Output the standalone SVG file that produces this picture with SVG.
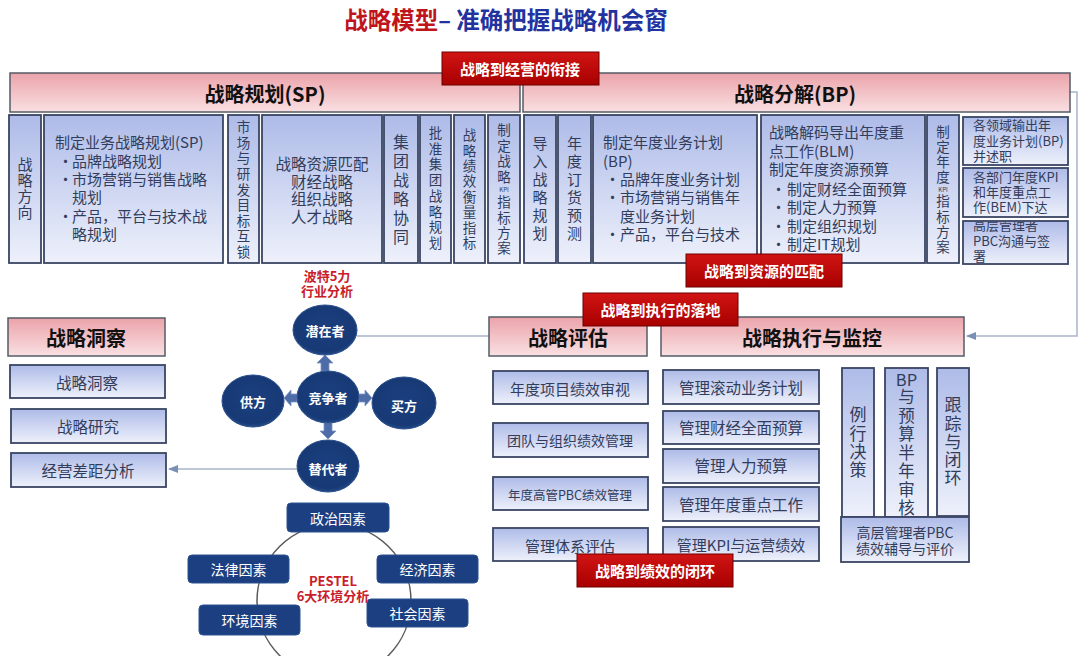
<svg xmlns="http://www.w3.org/2000/svg" width="1080" height="656" viewBox="0 0 1080 656">
<defs>
<linearGradient id="gBlue" x1="0" y1="0" x2="0" y2="1"><stop offset="0" stop-color="#aebbe8"/><stop offset="1" stop-color="#eef1fb"/></linearGradient>
<linearGradient id="gPink" x1="0" y1="0" x2="0" y2="1"><stop offset="0" stop-color="#eba3aa"/><stop offset="1" stop-color="#f9e0e2"/></linearGradient>
<linearGradient id="gRed" x1="0" y1="0" x2="0" y2="1"><stop offset="0" stop-color="#d11414"/><stop offset="1" stop-color="#a80000"/></linearGradient>
<radialGradient id="gNavy" cx="0.5" cy="0.45" r="0.6"><stop offset="0" stop-color="#1b3f7e"/><stop offset="0.8" stop-color="#173a76"/><stop offset="1" stop-color="#2f5592"/></radialGradient>
<marker id="arr" viewBox="0 0 10 10" refX="9" refY="5" markerWidth="7" markerHeight="7" orient="auto"><path d="M0,1 L10,5 L0,9 Z" fill="#7a8fb4"/></marker>
<clipPath id="clipC"><rect x="964" y="222" width="103" height="41"/></clipPath>
<style>
.box{fill:url(#gBlue);stroke:#3a4563;stroke-width:1.8}
.hdr{fill:url(#gPink);stroke:#555b66;stroke-width:1.5}
.red{fill:url(#gRed);stroke:#6e0000;stroke-width:1}
.t{font-family:"Noto Sans CJK SC","Noto Sans",sans-serif;fill:#323d5c}
.v{text-anchor:middle;dominant-baseline:central}
.vt{writing-mode:vertical-rl;text-anchor:middle}
.h{font-family:"Noto Sans CJK SC","Noto Sans",sans-serif;font-weight:bold;font-size:20px;fill:#111;text-anchor:middle;dominant-baseline:central}
.rt{font-family:"Noto Sans CJK SC","Noto Sans",sans-serif;font-weight:bold;font-size:15px;fill:#fff;text-anchor:middle;dominant-baseline:central}
.ct{font-family:"Noto Sans CJK SC","Noto Sans",sans-serif;font-weight:bold;font-size:13px;fill:#fff;text-anchor:middle;dominant-baseline:central}
.pt{font-family:"Noto Sans CJK SC","Noto Sans",sans-serif;font-size:14px;fill:#fff;text-anchor:middle;dominant-baseline:central}
.lbl{font-family:"Noto Sans CJK SC","Noto Sans",sans-serif;font-weight:bold;font-size:13px;fill:#c8202a;text-anchor:middle;dominant-baseline:central}
.circ{fill:url(#gNavy);stroke:#2a4f8c;stroke-width:1}
.pbox{fill:#1b3f80;stroke:#2c5290;stroke-width:1}
.conn{fill:none;stroke:#a9b5c9;stroke-width:1.5}
.barr{fill:#4d6ca8;stroke:#7f97c4;stroke-width:0.8}
</style>
</defs>
<rect width="1080" height="656" fill="#ffffff"/>

<g id="title">
<text x="506" y="19" font-family="'Noto Sans CJK SC','Noto Sans',sans-serif" font-weight="bold" font-size="23.5" text-anchor="middle" dominant-baseline="central"><tspan fill="#c0141c">战略模型</tspan><tspan fill="#2233a0">– 准确把握战略机会窗</tspan></text>
</g>

<g id="connectors">
<line class="conn" x1="357" y1="336" x2="490" y2="336"/>
<line class="conn" x1="297" y1="469" x2="169" y2="469" marker-end="url(#arr)"/>
<path class="conn" d="M1070,92 H1077 V336 H967" marker-end="url(#arr)"/>
<circle cx="334" cy="601" r="77" fill="none" stroke="#5a5a5a" stroke-width="1.5"/>
<polygon class="barr" points="321,371 321,363 317,363 325,355 333,363 329,363 329,371"/>
<polygon class="barr" points="297,394 291,394 291,390 284,398 291,406 291,402 297,402"/>
<polygon class="barr" points="359,394 365,394 365,390 372,398 365,406 365,402 359,402"/>
<polygon class="barr" points="324,423 332,423 332,431 336,431 328,439 320,431 324,431"/>
</g>

<g id="sp-header"><rect class="hdr" x="10" y="73" width="510" height="39"/><text class="h" x="265" y="93">战略规划(SP)</text></g>
<g id="bp-header"><rect class="hdr" x="523" y="73" width="547" height="39"/><text class="h" x="795" y="93">战略分解(BP)</text></g>

<g id="sp1"><rect class="box" x="9" y="115" width="32" height="148"/>
<text class="t vt" font-size="15" letter-spacing="1" x="25" y="188.5">战略方向</text></g>

<g id="sp2"><rect class="box" x="44" y="115" width="179" height="148"/>
<text class="t" font-size="15"><tspan x="55" y="148">制定业务战略规划(SP)</tspan><tspan x="58" y="167">•</tspan><tspan x="72" y="167">品牌战略规划</tspan><tspan x="58" y="185">•</tspan><tspan x="72" y="185">市场营销与销售战略</tspan><tspan x="72" y="203">规划</tspan><tspan x="58" y="222">•</tspan><tspan x="72" y="222">产品，平台与技术战</tspan><tspan x="72" y="240">略规划</tspan></text></g>

<g id="sp3"><rect class="box" x="228" y="115" width="31" height="148"/>
<text class="t vt" font-size="13.5" letter-spacing="2.1" x="243.5" y="190.5">市场与研发目标互锁</text></g>

<g id="sp4"><rect class="box" x="262" y="115" width="120" height="148"/>
<text class="t v" font-size="15.5"><tspan x="322" y="163">战略资源匹配</tspan><tspan x="322" y="180.5">财经战略</tspan><tspan x="322" y="198">组织战略</tspan><tspan x="322" y="215.5">人才战略</tspan></text></g>

<g id="sp5"><rect class="box" x="384" y="115" width="34" height="148"/>
<text class="t vt" font-size="16" letter-spacing="3" x="401" y="191">集团战略协同</text></g>

<g id="sp6"><rect class="box" x="420" y="115" width="31" height="148"/>
<text class="t vt" font-size="13.5" letter-spacing="2.2" x="435.5" y="189">批准集团战略规划</text></g>

<g id="sp7"><rect class="box" x="454" y="115" width="31" height="148"/>
<text class="t vt" font-size="13.5" letter-spacing="1.9" x="469.5" y="190">战略绩效衡量指标</text></g>

<g id="sp8"><rect class="box" x="488" y="115" width="32" height="148"/>
<text class="t vt" font-size="13.5" letter-spacing="2.2" x="504" y="154.6">制定战略</text>
<text class="t v" font-size="6" x="504" y="189.5">KPI</text>
<text class="t vt" font-size="13.5" letter-spacing="1.8" x="504" y="226">指标方案</text></g>

<g id="bp1"><rect class="box" x="524" y="115" width="32" height="148"/>
<text class="t vt" font-size="15" letter-spacing="3" x="540" y="189.5">导入战略规划</text></g>

<g id="bp2"><rect class="box" x="558" y="115" width="33" height="148"/>
<text class="t vt" font-size="15" letter-spacing="3" x="574.5" y="189.5">年度订货预测</text></g>

<g id="bp3"><rect class="box" x="593" y="115" width="164" height="148"/>
<text class="t" font-size="15"><tspan x="603" y="148">制定年度业务计划</tspan><tspan x="603" y="167">(BP)</tspan><tspan x="605" y="185">•</tspan><tspan x="620" y="185">品牌年度业务计划</tspan><tspan x="605" y="203">•</tspan><tspan x="620" y="203">市场营销与销售年</tspan><tspan x="620" y="222">度业务计划</tspan><tspan x="605" y="240">•</tspan><tspan x="620" y="240">产品，平台与技术</tspan></text></g>

<g id="bp4"><rect class="box" x="761" y="115" width="164" height="148"/>
<text class="t" font-size="15"><tspan x="769" y="138">战略解码导出年度重</tspan><tspan x="769" y="157">点工作(BLM)</tspan><tspan x="769" y="175">制定年度资源预算</tspan><tspan x="771" y="195">•</tspan><tspan x="787" y="195">制定财经全面预算</tspan><tspan x="771" y="213">•</tspan><tspan x="787" y="213">制定人力预算</tspan><tspan x="771" y="232">•</tspan><tspan x="787" y="232">制定组织规划</tspan><tspan x="771" y="250">•</tspan><tspan x="787" y="250">制定IT规划</tspan></text></g>

<g id="bp5"><rect class="box" x="927" y="115" width="32" height="148"/>
<text class="t vt" font-size="13.5" letter-spacing="1.5" x="943" y="155.3">制定年度</text>
<text class="t v" font-size="6" x="943" y="189">KPI</text>
<text class="t vt" font-size="13.5" letter-spacing="1.8" x="943" y="225">指标方案</text></g>

<g id="bp6"><rect class="box" x="963" y="117" width="105" height="48"/>
<text class="t" font-size="13"><tspan x="973" y="130">各领域输出年</tspan><tspan x="973" y="146">度业务计划(BP)</tspan><tspan x="973" y="161">并述职</tspan></text></g>
<g id="bp7"><rect class="box" x="963" y="168" width="105" height="49"/>
<text class="t" font-size="13"><tspan x="973" y="182">各部门年度KPI</tspan><tspan x="973" y="197">和年度重点工</tspan><tspan x="973" y="212">作(BEM)下达</tspan></text></g>
<g id="bp8"><rect class="box" x="963" y="221" width="105" height="43"/>
<text class="t" font-size="13" clip-path="url(#clipC)"><tspan x="973" y="230">高层管理者</tspan><tspan x="973" y="246">PBC沟通与签</tspan><tspan x="973" y="261">署</tspan></text></g>

<g id="porter-label"><text class="lbl"><tspan x="327" y="275">波特5力</tspan><tspan x="327" y="290">行业分析</tspan></text></g>
<g id="p-qianzai"><ellipse class="circ" cx="325" cy="330" rx="32" ry="25"/><text class="ct" x="325" y="330">潜在者</text></g>
<g id="p-jingzheng"><ellipse class="circ" cx="328" cy="397" rx="31" ry="26"/><text class="ct" x="328" y="397">竞争者</text></g>
<g id="p-gongfang"><ellipse class="circ" cx="253" cy="401" rx="31" ry="26"/><text class="ct" x="253" y="401">供方</text></g>
<g id="p-maifang"><ellipse class="circ" cx="404" cy="403" rx="32" ry="26"/><text class="ct" x="404" y="405">买方</text></g>
<g id="p-tidai"><ellipse class="circ" cx="328" cy="466" rx="31" ry="26"/><text class="ct" x="328" y="468">替代者</text></g>

<g id="insight-header"><rect class="hdr" x="8" y="318" width="157" height="38"/><text class="h" x="86" y="337">战略洞察</text></g>
<g id="insight1"><rect class="box" x="10" y="365" width="155" height="33"/><text class="t v" font-size="15.5" x="87" y="382">战略洞察</text></g>
<g id="insight2"><rect class="box" x="11" y="409" width="155" height="34"/><text class="t v" font-size="15.5" x="88" y="426">战略研究</text></g>
<g id="insight3"><rect class="box" x="11" y="453" width="155" height="34"/><text class="t v" font-size="15.5" x="88" y="470">经营差距分析</text></g>

<g id="eval-header"><rect class="hdr" x="489" y="317" width="158" height="39"/><text class="h" x="568" y="337">战略评估</text></g>
<g id="exec-header"><rect class="hdr" x="661" y="317" width="303" height="39"/><text class="h" x="812" y="337">战略执行与监控</text></g>

<g id="eval1"><rect class="box" x="493" y="371" width="155" height="33"/><text class="t v" font-size="15" x="570" y="388">年度项目绩效审视</text></g>
<g id="eval2"><rect class="box" x="493" y="423" width="155" height="34"/><text class="t v" font-size="14" x="570" y="440">团队与组织绩效管理</text></g>
<g id="eval3"><rect class="box" x="493" y="477" width="155" height="33"/><text class="t v" font-size="12.5" x="570" y="494">年度高管PBC绩效管理</text></g>
<g id="eval4"><rect class="box" x="493" y="528" width="155" height="33"/><text class="t v" font-size="15" x="570" y="545">管理体系评估</text></g>

<g id="exec1"><rect class="box" x="663" y="370" width="156" height="34"/><text class="t v" font-size="15.5" x="741" y="387">管理滚动业务计划</text></g>
<g id="exec2"><rect class="box" x="663" y="411" width="156" height="33"/><text class="t v" font-size="15.5" x="741" y="427">管理财经全面预算</text></g>
<g id="exec3"><rect class="box" x="663" y="449" width="156" height="34"/><text class="t v" font-size="15.5" x="741" y="465">管理人力预算</text></g>
<g id="exec4"><rect class="box" x="663" y="487" width="156" height="34"/><text class="t v" font-size="15.5" x="741" y="504">管理年度重点工作</text></g>
<g id="exec5"><rect class="box" x="663" y="527" width="156" height="34"/><text class="t v" font-size="15" x="741" y="544">管理KPI与运营绩效</text></g>

<g id="exec-routine"><rect class="box" x="842" y="368" width="32" height="149"/>
<text class="t vt" font-size="17" letter-spacing="1.3" x="858" y="443">例行决策</text></g>
<g id="exec-review"><rect class="box" x="885" y="368" width="43" height="149"/>
<text class="t v" font-size="16.5" x="906.5" y="379">BP</text>
<text class="t vt" font-size="16.5" letter-spacing="2" x="906.5" y="453.5">与预算半年审核</text></g>
<g id="exec-track"><rect class="box" x="937" y="368" width="32" height="148"/>
<text class="t vt" font-size="17" letter-spacing="1.25" x="953" y="442">跟踪与闭环</text></g>
<g id="exec-pbc"><rect class="box" x="841" y="517" width="128" height="45"/>
<text class="t v" font-size="14"><tspan x="905" y="532">高层管理者PBC</tspan><tspan x="905" y="548">绩效辅导与评价</tspan></text></g>

<g id="pestel-politics"><rect class="pbox" x="287" y="503" width="102" height="29" rx="4"/><text class="pt" x="338" y="518">政治因素</text></g>
<g id="pestel-law"><rect class="pbox" x="188" y="555" width="101" height="28" rx="4"/><text class="pt" x="238.5" y="569">法律因素</text></g>
<g id="pestel-economy"><rect class="pbox" x="377" y="555" width="101" height="28" rx="4"/><text class="pt" x="427.5" y="569">经济因素</text></g>
<g id="pestel-env"><rect class="pbox" x="199" y="605" width="101" height="30" rx="4"/><text class="pt" x="249.5" y="620">环境因素</text></g>
<g id="pestel-social"><rect class="pbox" x="367" y="599" width="101" height="28" rx="4"/><text class="pt" x="417.5" y="613">社会因素</text></g>
<g id="pestel-label"><text class="lbl"><tspan x="333" y="580">PESTEL</tspan><tspan x="333" y="595">6大环境分析</tspan></text></g>

<g id="tag-operation"><rect class="red" x="442" y="52" width="157" height="33"/><text class="rt" x="520" y="68.5">战略到经营的衔接</text></g>
<g id="tag-resource"><rect class="red" x="686" y="254" width="156" height="33"/><text class="rt" x="764" y="270.5">战略到资源的匹配</text></g>
<g id="tag-execution"><rect class="red" x="583" y="293" width="155" height="33"/><text class="rt" x="660.5" y="309.5">战略到执行的落地</text></g>
<g id="tag-performance"><rect class="red" x="577" y="554" width="156" height="33"/><text class="rt" x="655" y="570.5">战略到绩效的闭环</text></g>
</svg>
